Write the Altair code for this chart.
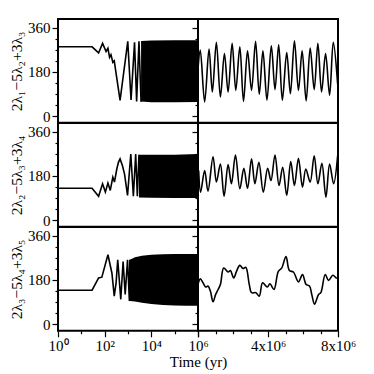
import altair as alt
import pandas as pd

# ---------------- data ----------------
row_titles = ["2λ₁−5λ₂+3λ₃", "2λ₂−5λ₃+3λ₄", "2λ₃−5λ₄+3λ₅"]

# Left panels: early evolution (log10 of time in yr, angle in degrees)
r1_early_logt = [0, 1.46, 1.74, 1.91, 2.06, 2.14, 2.21, 2.27, 2.35, 2.41, 2.66, 2.99, 3.13, 3.28, 3.37, 3.47, 3.56]
r1_early_val = [282, 282, 257, 296, 263, 276, 239, 250, 219, 225, 64, 304, 66, 300, 60, 304, 58]
r2_early_logt = [0, 1.46, 1.74, 1.91, 2.03, 2.14, 2.24, 2.35, 2.42, 2.52, 2.59, 2.66, 2.76, 2.85, 2.98, 3.12, 3.23, 3.33, 3.40, 3.47]
r2_early_val = [130, 130, 97, 148, 114, 151, 121, 175, 155, 208, 235, 249, 222, 188, 101, 269, 97, 269, 97, 266]
r3_early_logt = [0, 1.46, 1.74, 1.88, 2.14, 2.31, 2.41, 2.49, 2.56, 2.69, 2.79, 2.88, 2.98, 3.06, 3.08]
r3_early_val = [138, 138, 188, 191, 282, 208, 114, 168, 262, 101, 255, 121, 262, 94, 262]

# Left panels: densely oscillating part drawn as its envelope
r1_band_logt = [3.56, 4.0, 5.0, 6.0]
r1_band_lo = [60, 57, 57, 58]
r1_band_hi = [306, 308, 309, 309]
r2_band_logt = [3.47, 4.0, 5.0, 6.0]
r2_band_lo = [92, 91, 90, 90]
r2_band_hi = [266, 266, 266, 269]
r3_band_logt = [3.08, 3.3, 3.6, 4.0, 4.5, 5.0, 5.5, 6.0]
r3_band_lo = [94, 92, 87, 82, 78, 76, 75, 75]
r3_band_hi = [262, 272, 278, 282, 284, 285, 285, 285]

# Right panels: time in Myr, angle in degrees
r1_late_t = [0, 0.13, 0.38, 0.63, 0.82, 1.05, 1.28, 1.51, 1.72, 1.95, 2.16, 2.39, 2.60, 2.83, 3.06, 3.29, 3.50, 3.71, 3.94,
             4.19, 4.40, 4.61, 4.82, 5.07, 5.28, 5.51, 5.74, 5.95, 6.18, 6.41, 6.64, 6.85, 7.06, 7.29, 7.52, 7.73, 7.98]
r1_late_val = [190, 269, 58, 273, 98, 300, 78, 255, 98, 296, 105, 282, 60, 266, 105, 304, 89, 266, 65,
               286, 108, 290, 65, 259, 91, 306, 105, 266, 62, 277, 108, 296, 98, 255, 85, 300, 130]
r2_late_t = [0.04, 0.15, 0.38, 0.57, 0.86, 1.05, 1.28, 1.49, 1.72, 1.91, 2.14, 2.39, 2.62, 2.83, 3.06, 3.25, 3.48, 3.73,
             3.98, 4.17, 4.40, 4.63, 4.84, 5.07, 5.30, 5.51, 5.74, 5.97, 6.16, 6.41, 6.64, 6.85, 7.08, 7.31, 7.52, 7.75, 7.98]
r2_late_val = [202, 114, 202, 118, 258, 155, 228, 97, 226, 148, 265, 128, 211, 130, 249, 148, 235, 114,
               211, 161, 265, 141, 215, 101, 238, 141, 251, 134, 208, 155, 262, 148, 231, 94, 228, 148, 262]
r3_late_t = [0.0, 0.13, 0.29, 0.44, 0.57, 0.71, 0.86, 1.01, 1.15, 1.28, 1.47, 1.72, 1.85, 2.04, 2.20, 2.39, 2.58, 2.73,
             2.93, 3.06, 3.31, 3.50, 3.69, 3.96, 4.11, 4.34, 4.59, 4.78, 5.03, 5.22, 5.45, 5.74, 5.97, 6.18, 6.37,
             6.50, 6.66, 6.89, 7.02, 7.27, 7.46, 7.71, 7.90, 7.98]
r3_late_val = [161, 184, 168, 151, 155, 134, 91, 121, 141, 161, 228, 212, 218, 188, 215, 239, 226, 231,
               161, 128, 128, 114, 168, 151, 164, 141, 215, 228, 275, 218, 212, 172, 202, 161, 155,
               121, 81, 121, 128, 202, 178, 199, 188, 188]

y_ticks = [0, 45, 90, 135, 180, 225, 270, 315, 360]
left_x_ticks = [1, 10, 100, 1000, 10000, 100000, 1000000]
right_x_ticks = [0, 1e6, 2e6, 3e6, 4e6, 5e6, 6e6, 7e6, 8e6]

# ---------------- chart ----------------
FONT = "Liberation Serif"
W, H = 140, 103.8
YDOM = [-27, 395]
FS = 15

def y_axis(title, labels):
    return alt.Axis(
        values=y_ticks, title=title if labels else None, labels=labels,
        labelExpr="datum.value % 180 === 0 ? datum.label : ''",
        tickSize={"condition": {"test": "datum.value % 180 === 0", "value": 6}, "value": 3},
        tickColor="black", tickWidth=1.2, domain=False, grid=False,
        labelFont=FONT, labelFontSize=FS, labelColor="black", labelPadding=2,
        titleFont=FONT, titleFontSize=15.5, titleFontWeight="normal", titleColor="black", titlePadding=3,
    )

def x_axis_left():
    return alt.Axis(
        values=left_x_ticks,
        labelExpr="datum.value == 1 ? '10⁰' : datum.value == 100 ? '10²' : datum.value == 10000 ? '10⁴' : datum.value == 1000000 ? '10⁶' : ''",
        tickSize={"condition": {"test": "datum.value == 1 || datum.value == 100 || datum.value == 10000 || datum.value == 1000000", "value": 6}, "value": 3},
        tickColor="black", tickWidth=1.2, domain=False, grid=False,
        labelFont=FONT, labelFontSize=FS, labelColor="black", labelOverlap=False, labelFlush=False,
        title="Time (yr)", titleX=W, titleAlign="center", titleFont=FONT, titleFontSize=FS,
        titleFontWeight="normal", titleColor="black", titlePadding=1,
    )

def x_axis_right():
    return alt.Axis(
        values=right_x_ticks,
        labelExpr="datum.value == 4000000 ? '4x10⁶' : datum.value == 8000000 ? '8x10⁶' : ''",
        tickSize={"condition": {"test": "datum.value % 4000000 === 0", "value": 6}, "value": 3},
        tickColor="black", tickWidth=1.2, domain=False, grid=False,
        labelFont=FONT, labelFontSize=FS, labelColor="black", labelOverlap=False, labelFlush=False,
        title=None,
    )

def left_panel(elogt, evals, blogt, blo, bhi, title, show_x):
    early = pd.DataFrame({"t": [10 ** v for v in elogt], "v": evals})
    band = pd.DataFrame({"t": [10 ** v for v in blogt], "lo": blo, "hi": bhi})
    xs = alt.Scale(type="log", domain=[1, 1e6], nice=False)
    ys = alt.Scale(domain=YDOM, nice=False, zero=False)
    xa = x_axis_left() if show_x else None
    line = alt.Chart(early).mark_line(color="black", strokeWidth=1.6, clip=True).encode(
        x=alt.X("t:Q", scale=xs, axis=xa), y=alt.Y("v:Q", scale=ys, axis=y_axis(title, True)))
    area = alt.Chart(band).mark_area(color="black", clip=True).encode(
        x=alt.X("t:Q", scale=xs, axis=xa), y=alt.Y("lo:Q", scale=ys, axis=y_axis(title, True)), y2="hi:Q")
    return alt.layer(line, area).properties(width=W, height=H)

def right_panel(ts, vals, show_x):
    df = pd.DataFrame({"t": [v * 1e6 for v in ts], "v": vals})
    return alt.Chart(df).mark_line(color="black", strokeWidth=1.6, interpolate="catmull-rom", clip=True).encode(
        x=alt.X("t:Q", scale=alt.Scale(domain=[0, 8e6], nice=False), axis=x_axis_right() if show_x else None),
        y=alt.Y("v:Q", scale=alt.Scale(domain=YDOM, nice=False, zero=False), axis=y_axis(None, False)),
    ).properties(width=W, height=H)

panels = [
    left_panel(r1_early_logt, r1_early_val, r1_band_logt, r1_band_lo, r1_band_hi, row_titles[0], False),
    right_panel(r1_late_t, r1_late_val, False),
    left_panel(r2_early_logt, r2_early_val, r2_band_logt, r2_band_lo, r2_band_hi, row_titles[1], False),
    right_panel(r2_late_t, r2_late_val, False),
    left_panel(r3_early_logt, r3_early_val, r3_band_logt, r3_band_lo, r3_band_hi, row_titles[2], True),
    right_panel(r3_late_t, r3_late_val, True),
]

chart = alt.concat(*panels, columns=2, spacing=0, bounds="flush").properties(
    padding={"left": 0, "top": 10, "right": 5, "bottom": 5}, background="white"
).resolve_scale(x="independent", y="independent").configure_view(
    stroke="black", strokeWidth=2, strokeOpacity=1
)

chart.save("out.html", embed_options={"renderer": "svg", "actions": False})
